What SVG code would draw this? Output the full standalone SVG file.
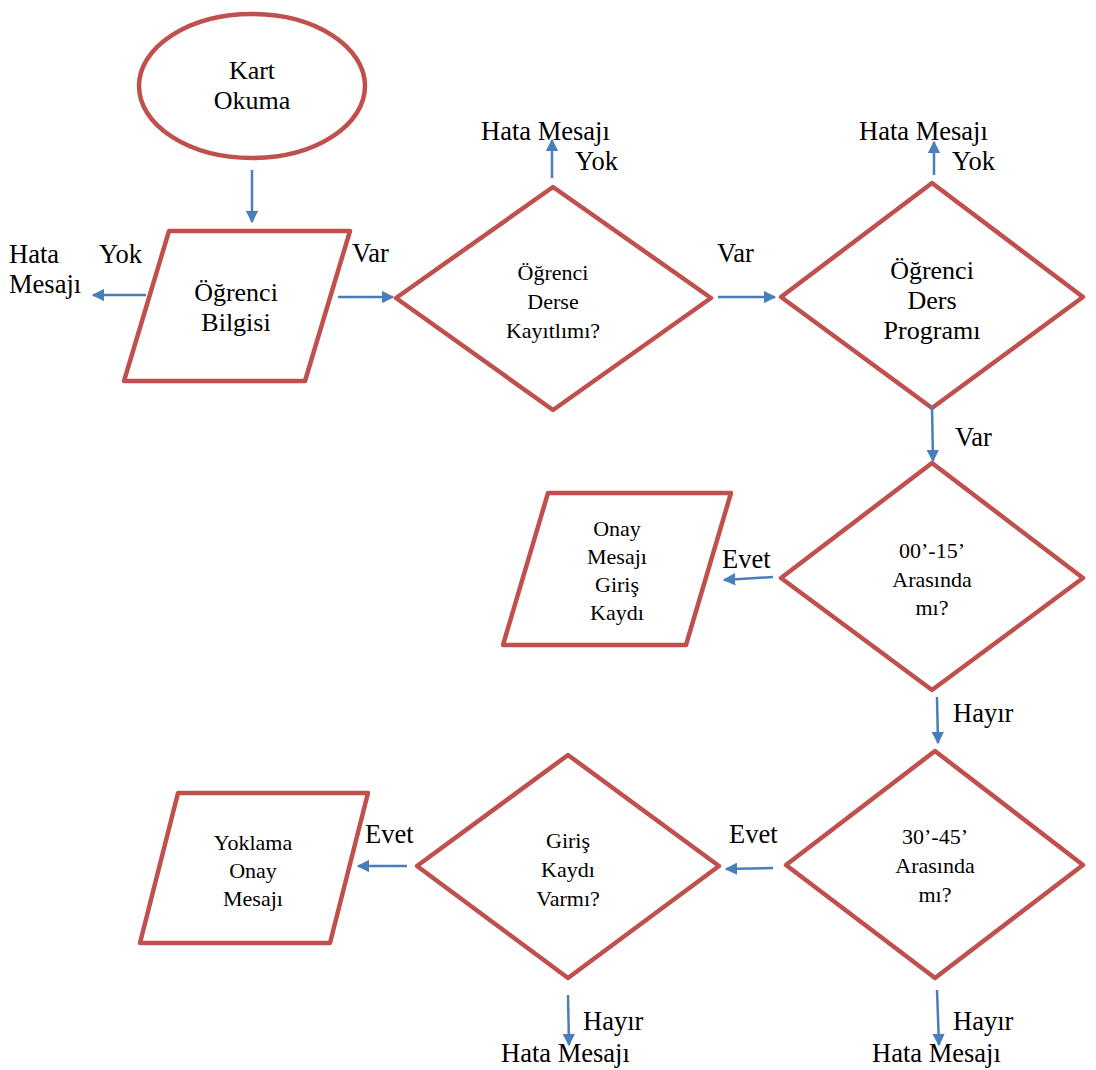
<svg xmlns="http://www.w3.org/2000/svg" width="1096" height="1070" viewBox="0 0 1096 1070">
<defs>
<marker id="ah" viewBox="0 0 10 10" refX="9" refY="5" markerWidth="5" markerHeight="5" orient="auto" markerUnits="strokeWidth">
<path d="M0,0 L10,5 L0,10 z" fill="#4A7EBB"/>
</marker>
<style>
.shape{fill:#fff;stroke:#C0504D;stroke-width:4.5;stroke-linejoin:round}
.conn{stroke:#4A7EBB;stroke-width:2.5;fill:none;marker-end:url(#ah)}
text{font-family:"Liberation Serif","Times New Roman",serif;fill:#000}
.n{text-anchor:middle;font-size:26px}
.d{text-anchor:middle;font-size:22px}
.l{font-size:26.5px}
</style>
</defs>
<rect width="1096" height="1070" fill="#fff"/>

<g id="start">
<ellipse class="shape" cx="252" cy="86" rx="113" ry="72"/>
<text class="n" x="252" y="79">Kart</text>
<text class="n" x="252" y="109">Okuma</text>
</g>

<g id="ogrenci-bilgisi">
<polygon class="shape" points="169,231 350,231 305,381 124,381"/>
<text class="n" x="236" y="301">Öğrenci</text>
<text class="n" x="236" y="331">Bilgisi</text>
</g>

<g id="derse-kayitli">
<polygon class="shape" points="553,187 711,298 553,410 396,298"/>
<text class="d" x="553" y="280">Öğrenci</text>
<text class="d" x="553" y="309">Derse</text>
<text class="d" x="553" y="338">Kayıtlımı?</text>
</g>

<g id="ders-programi">
<polygon class="shape" points="932,183 1083,297 932,408 781,297"/>
<text class="n" x="932" y="279">Öğrenci</text>
<text class="n" x="932" y="309">Ders</text>
<text class="n" x="932" y="339">Programı</text>
</g>

<g id="aralik-00-15">
<polygon class="shape" points="932,463 1083,578 932,690 781,578"/>
<text class="d" x="932" y="558">00’-15’</text>
<text class="d" x="932" y="587">Arasında</text>
<text class="d" x="932" y="615">mı?</text>
</g>

<g id="onay-giris">
<polygon class="shape" points="548,493 731,493 686,645 503,645"/>
<text class="d" x="617" y="536">Onay</text>
<text class="d" x="617" y="564">Mesajı</text>
<text class="d" x="617" y="592">Giriş</text>
<text class="d" x="617" y="620">Kaydı</text>
</g>

<g id="aralik-30-45">
<polygon class="shape" points="935,751 1083,865 935,978 786,865"/>
<text class="d" x="935" y="844">30’-45’</text>
<text class="d" x="935" y="873">Arasında</text>
<text class="d" x="935" y="902">mı?</text>
</g>

<g id="giris-kaydi">
<polygon class="shape" points="568,755 719,866 568,978 417,866"/>
<text class="d" x="568" y="848">Giriş</text>
<text class="d" x="568" y="877">Kaydı</text>
<text class="d" x="568" y="906">Varmı?</text>
</g>

<g id="yoklama-onay">
<polygon class="shape" points="178,793 368,793 330,943 140,943"/>
<text class="d" x="253" y="850">Yoklama</text>
<text class="d" x="253" y="878">Onay</text>
<text class="d" x="253" y="906">Mesajı</text>
</g>

<g id="connectors">
<line class="conn" x1="252" y1="170" x2="252" y2="222"/>
<line class="conn" x1="146" y1="295" x2="93" y2="295"/>
<line class="conn" x1="338" y1="297" x2="393" y2="297"/>
<line class="conn" x1="552" y1="178" x2="552" y2="140"/>
<line class="conn" x1="718" y1="297" x2="775" y2="297"/>
<line class="conn" x1="934" y1="175" x2="934" y2="142"/>
<line class="conn" x1="932" y1="405" x2="933" y2="461"/>
<line class="conn" x1="773" y1="577" x2="724" y2="580"/>
<line class="conn" x1="937" y1="697" x2="938" y2="743"/>
<line class="conn" x1="773" y1="868" x2="726" y2="869"/>
<line class="conn" x1="407" y1="866" x2="358" y2="866"/>
<line class="conn" x1="568" y1="995" x2="569" y2="1045"/>
<line class="conn" x1="937" y1="990" x2="939" y2="1045"/>
</g>

<g id="labels">
<text class="l" x="9" y="263">Hata</text>
<text class="l" x="9" y="293">Mesajı</text>
<text class="l" x="99" y="263">Yok</text>
<text class="l" x="352" y="262">Var</text>
<text class="l" x="481" y="140">Hata Mesajı</text>
<text class="l" x="575" y="170">Yok</text>
<text class="l" x="717" y="262">Var</text>
<text class="l" x="859" y="140">Hata Mesajı</text>
<text class="l" x="952" y="170">Yok</text>
<text class="l" x="955" y="446">Var</text>
<text class="l" x="722" y="568">Evet</text>
<text class="l" x="953" y="722">Hayır</text>
<text class="l" x="729" y="843">Evet</text>
<text class="l" x="365" y="843">Evet</text>
<text class="l" x="583" y="1030">Hayır</text>
<text class="l" x="501" y="1062">Hata Mesajı</text>
<text class="l" x="953" y="1030">Hayır</text>
<text class="l" x="872" y="1062">Hata Mesajı</text>
</g>
</svg>
